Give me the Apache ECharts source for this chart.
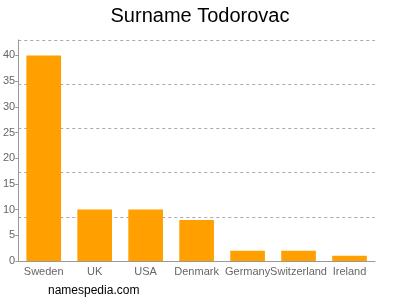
<!DOCTYPE html>
<html><head><meta charset="utf-8">
<script src="https://cdn.jsdelivr.net/npm/echarts@6/dist/echarts.min.js"></script>
<style>html,body{margin:0;padding:0;background:#fff}#c{width:400px;height:300px}</style>
</head><body><div id="c"></div>
<script>
var categories = ["Sweden","UK","USA","Denmark","Germany","Switzerland","Ireland"];
var values = [40,10,10,8,2,2,1];
var chart = echarts.init(document.getElementById('c'), null, {renderer:'canvas'});
chart.setOption({
  animation:false,
  title:{text:"Surname Todorovac",left:'center',top:1,textStyle:{fontFamily:'Liberation Sans, Arial',fontSize:20,fontWeight:'normal',color:'#000'}},
  graphic:[{type:'text',left:48,top:285,style:{text:'namespedia.com',fontFamily:'Liberation Sans, Arial',fontSize:12,fill:'#000'}}],
  grid:{left:17,right:25,top:40,bottom:39,containLabel:false},
  xAxis:{type:'category',data:categories,
    axisLine:{lineStyle:{color:'#999'}},
    axisTick:{alignWithLabel:true,lineStyle:{color:'#999'},length:4},
    axisLabel:{color:'#666',fontFamily:'Liberation Sans, Arial',fontSize:11,interval:0,margin:5}},
  yAxis:[{type:'value',min:0,max:43,interval:5,
    axisLine:{show:true,lineStyle:{color:'#999'}},
    axisTick:{show:true,length:3,lineStyle:{color:'#999'}},
    splitLine:{show:false},
    axisLabel:{color:'#666',fontFamily:'Liberation Sans, Arial',fontSize:11,margin:3,showMaxLabel:false}},
   {type:'value',min:0,max:43,interval:8.6,position:'left',
    axisLine:{show:false},axisTick:{show:false},axisLabel:{show:false},
    splitLine:{show:true,lineStyle:{color:'#aaa',type:[3,3],width:1}}}],
  series:[{type:'bar',data:values,barWidth:'68%',itemStyle:{color:'#FFA000'},yAxisIndex:0}]
});
</script></body></html>
